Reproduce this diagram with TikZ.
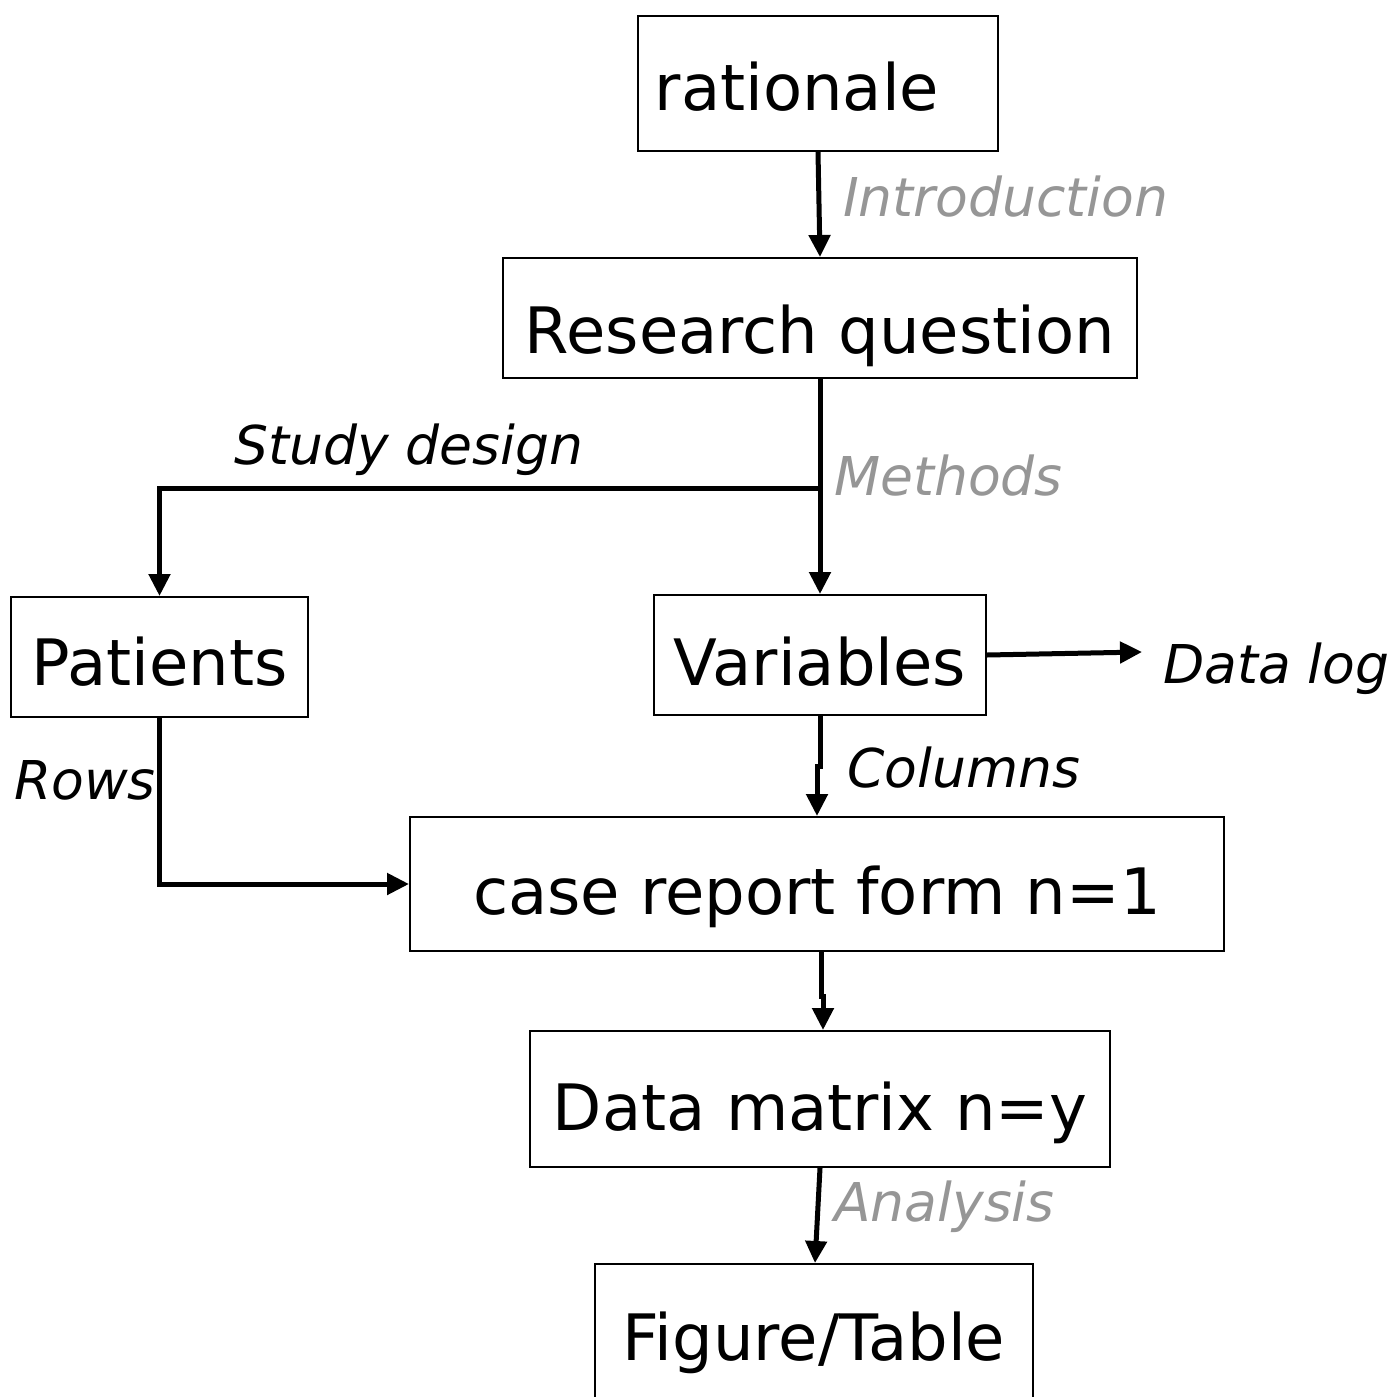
\documentclass[tikz,border=0pt]{standalone}
\usepackage{fontspec}
\setmainfont{DejaVu Sans}
\usetikzlibrary{arrows.meta}
\definecolor{labgray}{RGB}{150,150,150}
\tikzset{
  box/.style={draw=black, line width=2pt, inner sep=0pt, align=center,
    font=\fontsize{64}{70}\selectfont, text height=70pt, text depth=10pt},
  arr/.style={line width=5pt, -{Triangle[length=22pt,width=21pt]}},
  lab/.style={anchor=base west, inner sep=0pt, font=\fontsize{53.5}{60}\selectfont\itshape},
  glab/.style={lab, text=labgray},
}
\begin{document}
\begin{tikzpicture}[x=1pt,y=-1pt]
\path[use as bounding box, clip] (0,0) rectangle (1391,1397);
\fill[white] (0,0) rectangle (1391,1397);

\node[box, minimum width=360pt, minimum height=135pt, text height=63pt] (rat) at (818,83.5) {rationale\hspace*{42pt}};
\node[box, minimum width=634pt, minimum height=120pt, text height=80pt] (rq) at (820,318) {Research question};
\node[box, minimum width=297pt, minimum height=120pt, text height=66pt] (pat) at (159.5,657) {Patients};
\node[box, minimum width=332pt, minimum height=120pt] (var) at (820,655) {Variables};
\node[box, minimum width=814pt, minimum height=134pt] (crf) at (817,884) {case report form n=1};
\node[box, minimum width=580pt, minimum height=136pt, text height=72pt] (dm) at (820,1099) {Data matrix n=y};
\node[box, minimum width=438pt, minimum height=180pt, text height=22pt, text depth=10pt] (ft) at (814,1354) {Figure/Table};

\node[lab, anchor=west, inner xsep=21pt, inner ysep=0pt, text height=70pt, text depth=8pt] (dl) at (1142,652) {Data log};

\node[glab] (intro) at (843,216) {Introduction};
\node[lab] (sd) at (234,464) {Study design};
\node[glab] (meth) at (834,495) {Methods};
\node[lab] (rows) at (14,799) {Rows};
\node[lab] (cols) at (847,787) {Columns};
\node[glab] (ana) at (834,1221) {Analysis};

\coordinate (br) at (820,488);

\draw[arr] (rat.south) -- (rq.north);
\draw[arr] (rq.south) -- (var.north);
\draw[arr] (br) -| (pat.north);
\draw[arr] (var.east) -- (dl.west);
\draw[arr] (var.south) -- ++(0,50) -| (crf.north);
\draw[arr] (pat.south) |- (crf.west);
\draw[arr] ([xshift=4pt]crf.south) -- ++(0,44) -| ([xshift=3pt]dm.north);
\draw[arr] (dm.south) -- ([xshift=1pt]ft.north);
\end{tikzpicture}
\end{document}
